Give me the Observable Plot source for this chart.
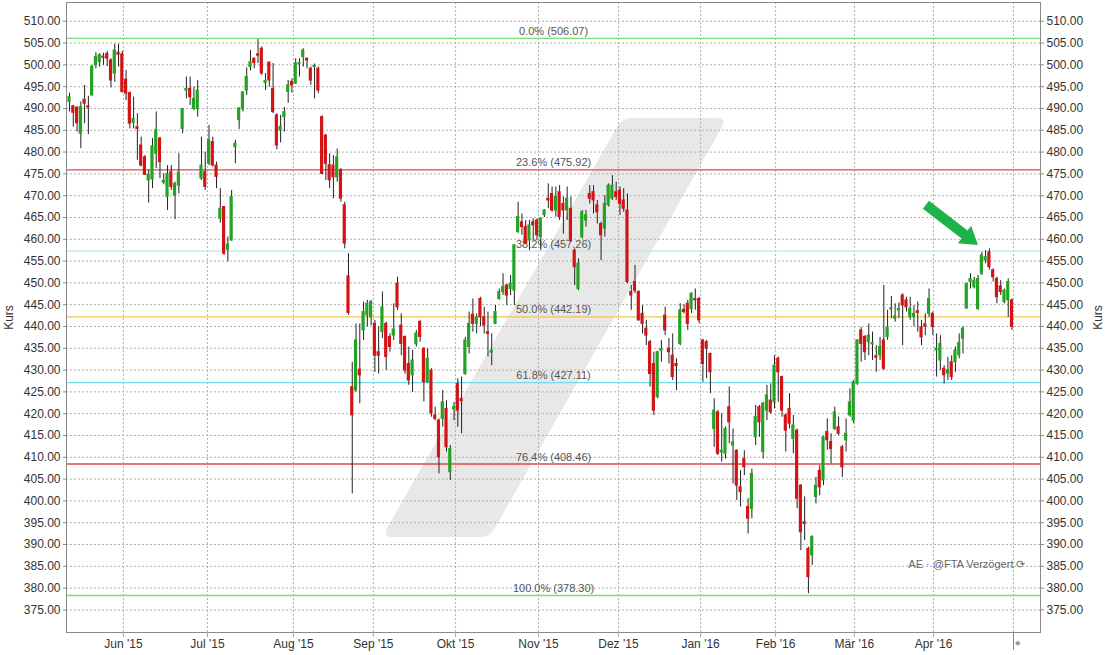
<!DOCTYPE html>
<html><head><meta charset="utf-8">
<script src="https://cdn.jsdelivr.net/npm/d3@7"></script>
<script src="https://cdn.jsdelivr.net/npm/@observablehq/plot@0.6"></script>
<style>
html,body{margin:0;padding:0;background:#fff;}
#chart{width:1108px;height:655px;overflow:hidden;}
</style></head><body><div id="chart"></div>
<script>
// ---- data (trading-day index i = 0..250) ----
const opens = [
491.5,490.5,490.2,484.2,492,490.5,493,499.9,500.6,501.9,
502.5,501,498,502.8,502.4,496.6,493.5,486.7,485.7,481.5,
478.8,473.5,473.7,479.6,483.1,473.0,469.7,475.4,470,472.3,
485.3,494.1,494.5,489.9,489.9,473.9,475.4,477.3,482.3,476.9,
464.7,467.4,457.6,459.7,481.1,487.3,489.8,494.1,499.5,501.4,
502.4,503.7,495.8,500.5,494.5,488.4,485,488,493.8,496.1,
495.7,500.1,501.8,501.4,499.1,499.5,499.1,488,483.8,477,
476.9,474.2,475.9,467.8,451.5,426.1,425.3,430.1,439.1,442.5,
442.1,440.6,434.1,438.7,440.6,437.6,437.9,449.8,440.2,437.6,
431.4,428.8,435.9,441,434.9,427.2,429.9,419.6,418.4,418.8,
421.1,406.6,421,426.8,423.4,429.1,435.3,442.7,440.6,446.3,
442.1,438.7,434,440.6,446.3,447.9,449.4,448.6,448.2,461.6,
463.9,462.8,459.7,463.9,464.3,460.5,465.5,469.3,470.4,466.6,
470.8,468.1,466.6,467,457.4,448.6,460.5,464.3,470.4,470.8,
467.8,463.5,462.4,467.8,469.3,470.8,471.2,468.9,466.6,447.9,
450.2,447.9,442.9,439.5,436.4,431.4,423.8,434.4,442.5,434.9,
433.3,431.4,436,443.8,445.2,444,446.3,446.3,436.8,436.4,
433.7,416.5,420.3,411.1,410.8,421.5,412.7,411.5,403.1,409.6,
398.6,398.2,414.6,421.5,411.2,420.7,423,422.6,432.6,428.4,
419.6,421.1,414.2,416.1,403.5,395.1,389,387.5,400.9,406.9,
404.7,415.8,413.5,416.5,416.9,412.3,413.9,419.6,418.4,426.9,
439.1,437.6,436.4,435.9,433.2,433.4,436.8,437.6,443.9,441.8,
443.7,447.1,446,442.2,442.2,443.5,439.8,440.5,442.9,442.9,
434.5,432.2,430.3,429.2,431.8,431.8,433.4,437.2,444.1,450.2,
449,444,452.1,455.1,457,452.9,450.9,449.2,445.6,446,
446];
const highs = [
493.5,490.7,490.3,491.5,495.3,492.8,499.9,502.8,502.6,502.7,
503.1,501.4,504.7,504.7,503.1,498.7,493.8,492.6,488.8,483.4,
479.2,475.8,483.1,489.2,483.4,475,476.9,476.9,473.1,479.6,
490,497.2,497.2,494.9,496.4,483.4,480,486.1,483.4,477.7,
471.6,467.5,460.5,471.2,482.7,490.2,493.8,499.3,503.3,501.6,
505.8,504.1,498,500.7,500.3,488.8,488.4,490.2,496.4,496.8,
501.4,501.4,503.7,501.6,499.5,500.2,499.5,488.3,484,479.6,
479.2,480.7,476.2,468.5,456.7,431.8,440.6,440.6,445.6,446,
446,441.4,439.9,447.9,441,438.3,445.2,451.3,442.9,437.8,
435.3,434.5,439.1,441.4,435.1,434.9,430.3,421.5,418.8,425.3,
423,412.7,422.6,428,428.4,437.5,443.3,446.3,442.9,446.7,
444.4,443.3,438.3,444.8,448.6,452.1,449.6,451.7,458.8,468.5,
465.8,464.3,464.3,464.7,464.7,464.9,466.8,472.7,472,472,
472.3,469.7,472,469.7,457.8,455.5,466.6,466.6,472.3,472.3,
468.9,463.9,470,472.7,474.6,473.1,472,471.6,470.4,449.4,
454,448.2,444.8,441.4,436.8,434.1,434.3,436.8,444.4,437.2,
438.3,432.6,445.2,445,446,447.7,448.6,446.7,437,436.8,
433.9,423.4,420.7,420,416.9,426.1,416.5,411.7,406.9,411.5,
400.5,407.3,421.9,421.9,422.6,426.5,426.8,433.3,433,428.6,
420,424.6,419.6,416.5,403.7,400.9,389.4,392,405.4,408.1,
414.8,418.8,415.4,421.5,419.2,412.7,418.8,425.7,427.6,437,
439.8,437.9,440.6,438.7,435.6,437.5,449.4,443.7,446.9,445.2,
445.4,447.5,446.7,446.7,444.8,445.6,441.4,442.9,448.6,443.3,
438.3,437.9,431,432.9,433.3,435.3,438.3,439.9,449.9,452.1,
451.3,451.7,457,457.4,457.8,453.2,451.3,450.5,448.6,450.9,
446.3];
const lows = [
489.2,485.7,484.6,480.8,486.5,484,492.8,499.1,499.5,499.9,
499.6,494.7,496,499.5,493.5,491.8,485.3,485.3,478.1,476.6,
474.6,468.3,471.6,476.2,473.9,472.5,466.6,471.2,464.5,470.4,
484.2,492.2,490.7,489.5,488,473.5,471.2,476.9,476.6,471.6,
463.7,456.3,454.8,459.6,477.3,485.2,489.2,493,498.6,499.1,
500.3,497.6,494.1,494.9,488.8,480.5,482.1,484.6,491.2,493.5,
495.5,497.2,499.5,499.1,495.3,492.2,493.4,474.8,473.5,471.6,
469.3,473.1,468.5,457.8,442.6,401.6,424.9,422.3,436.8,439.9,
440.2,429.5,429.1,437.2,429.9,434.1,436.8,443.7,433.3,429.1,
426.5,424.9,435.3,436.4,422.7,426.9,419.2,418.4,406.2,416.9,
411.2,404.7,418.4,416.9,415.4,428.8,433.7,438.7,438.3,439.9,
438.3,433,431,440.4,446,447.1,444.8,447.1,444.8,461.4,
460.9,458.8,457.4,459.7,459.7,457.4,465,467,466.2,465.1,
464.3,461.2,464.3,459.3,449.4,448.2,460.1,462.8,468.1,465.8,
463.5,455.1,460.5,467.4,468.9,468.9,465.5,466.2,449.8,443.7,
447.5,441.2,438.3,435.6,426.1,419.6,423.4,431.8,437.9,431.4,
427.6,425.3,435.6,442.9,439.1,443,443.7,440.6,427.2,428,
424.6,412.3,410.4,408.9,409.6,413.1,403.9,400.1,398.6,405.8,
392.4,395.9,412.7,414.6,409.6,418.4,419.9,421.1,422.6,419.2,
411.2,416.5,410.8,398.2,388.6,390.9,378.7,385.2,399.3,401.2,
403.5,411.6,408.5,416.1,415,405.4,411.2,419.2,417.7,426.5,
431.8,432.2,433.3,432.2,429.5,432.2,429.9,436.8,441.8,441,
441.8,435.6,443.3,441.4,439.9,438.7,435.6,437.9,442.1,437.9,
428.4,429.9,426.8,427.6,427.6,429.5,432.6,433.7,444,448.6,
448.6,443.7,451.7,454.4,452.9,450.2,445.2,447.1,445.2,442.1,
439.1];
const closes = [
492.6,489,486.6,490.3,491.1,490.2,499.5,501.8,502.2,501.6,
501.4,496.4,503.3,502.3,493.8,493.4,486.5,487.6,485.3,476.9,
474.8,474.8,481.3,485,477.7,473.4,475,472,472.7,475.3,
489.9,494.5,492.6,492.2,494.1,476.9,472,482.7,476.9,474.3,
467,456.7,458.8,469.7,481.9,490,493.7,497.2,500.6,500.4,
502.1,498,496.3,496.4,489.2,481.5,485.8,489.2,495.3,495.3,
500.3,500.4,503.3,501,496.4,499.8,494.1,475,477.3,473.5,
474.2,478.8,469.3,459,443.1,419.6,436.8,428.8,443.3,445.2,
445.6,433.3,433.3,444.4,433,435.3,439.3,444.4,436,429.9,
427.6,432.2,438.4,437.6,427.2,432.6,420,418.8,410,422.6,
412.3,411.9,421.5,420.7,422.9,436.8,440.6,440.6,442.1,442.1,
440.2,438.3,434.4,443.3,447.9,449,447.1,449.8,458.6,465.1,
462.8,459,463.2,463.2,460.9,464.7,466.6,468.9,466.6,469.7,
465.1,466.6,469.3,459.7,453.6,454.4,466.2,465.5,469.3,468.9,
466.2,460.9,468.1,472.3,472.3,469.7,468.1,467,450.2,447.1,
448.2,441.4,440.6,437.9,429.1,420.7,434.1,434.8,439.1,434.1,
428.4,430.9,443.7,443.3,440.6,447.5,446,441.4,431.4,434.9,
429.5,420.7,410.8,411.5,416.5,418,413.4,403.5,402,407.7,
395.9,406.2,419.2,418,422.3,424.2,420.3,431,429.5,420.7,
416.1,417.7,417.3,400.5,392.8,394.7,382.5,391.7,403.5,403.1,
414.6,413.9,411.9,420.3,415.4,407.7,415.4,422.6,427.2,436.8,
436,434.1,437.9,436.2,432.8,435.3,430.3,439.8,444.2,442.3,
444,444.8,444.4,444.1,442.9,443.1,437.5,440,446.3,439.9,
434.9,436,428.8,430,428.4,434.5,436.2,439.5,449.8,450.9,
450.5,450.9,456.3,455.9,453.6,451.3,446.7,447.9,448.2,450.2,
439.9];

// month starts (trading-day index) and their labels
const monthTicks = [14.3, 36.6, 59.4, 80.6, 102.4, 124.4, 145.6, 167.4, 187.3, 208.2, 229.2];
const monthLabels = ["Jun '15","Jul '15","Aug '15","Sep '15","Okt '15","Nov '15","Dez '15","Jan '16","Feb '16","Mär '16","Apr '16"];
const endTick = 250.4;

// y ticks
const yTicks = d3.range(375, 510.01, 5);

// Fibonacci retracement levels
const fibPercents = ["0.0%","23.6%","38.2%","50.0%","61.8%","76.4%","100.0%"];
const fibValues = [506.07, 475.92, 457.26, 442.19, 427.11, 408.46, 378.30];
const fibColors = ["#78e078","#e04848","#b4ecf6","#f7c24c","#72dcec","#e04848","#78e078"];
const fibLabelAt = 128.4;

// annotation arrow (index, price)
const arrowFrom = [227.3, 467.8];
const arrowTo = [241.1, 458.6];

const sourceText = "AE · @FTA Verzögert ⟳";

// ---- build ----
const candles = opens.map((o, i) => ({i, open: o, high: highs[i], low: lows[i], close: closes[i], up: closes[i] >= o}));
const fib = fibValues.map((v, k) => ({value: v, label: `${fibPercents[k]} (${v.toFixed(2)})`, color: fibColors[k]}));
const labelMap = new Map(monthTicks.map((t, k) => [t, monthLabels[k]]));

const UP = "#22a322", DOWN = "#d41414";

const plot = Plot.plot({
  width: 1108, height: 655,
  marginLeft: 66, marginRight: 68, marginTop: 2, marginBottom: 23,
  style: {fontFamily: "'Liberation Sans', Arial, sans-serif", fontSize: "12px", color: "#333", background: "#fff"},
  x: {domain: [-0.8, 257.56], axis: null},
  y: {domain: [369.82, 514.3], axis: null},
  marks: [
    Plot.ruleY(yTicks, {stroke: "#b0b0b0", strokeDasharray: "2,2", strokeWidth: 1}),
    Plot.ruleX([...monthTicks, endTick], {stroke: "#b0b0b0", strokeDasharray: "2,2", strokeWidth: 1}),
    Plot.ruleY(fib, {y: "value", stroke: "color", strokeWidth: 1.3}),
    Plot.text(fib, {x: () => fibLabelAt, y: "value", text: "label", dy: -7, fill: "#555", fontSize: 11}),
    Plot.ruleX(candles, {x: "i", y1: "low", y2: "high", stroke: "#222", strokeWidth: 1}),
    Plot.rect(candles, {x1: d => d.i - 0.42, x2: d => d.i + 0.42, y1: "open", y2: "close",
      fill: d => d.up ? UP : DOWN, insetTop: -0.5, insetBottom: -0.5}),
    Plot.frame({stroke: "#8a8a8a"}),
    Plot.axisY({anchor: "left", ticks: yTicks, tickFormat: d3.format(".2f"), tickSize: 3, tickPadding: 3, label: null, fontSize: 12, stroke: "#8a8a8a", fill: "#333"}),
    Plot.axisY({anchor: "right", ticks: yTicks, tickFormat: d3.format(".2f"), tickSize: 3, tickPadding: 3, label: null, fontSize: 12, stroke: "#8a8a8a", fill: "#333"}),
    Plot.axisX({ticks: monthTicks, tickFormat: d => labelMap.get(d), tickSize: 5, tickPadding: 2, label: null, fontSize: 12, stroke: "#aaa", fill: "#333"}),
    Plot.axisX({ticks: [endTick], tickFormat: () => "", tickSize: 18, label: null, stroke: "#888"}),
    Plot.text([endTick], {x: d => d, frameAnchor: "bottom", dy: 12, dx: 4, text: () => "◆", fontSize: 7, fill: "#999"}),
    Plot.text(["Kurs"], {frameAnchor: "left", dx: -57, rotate: -90, textAnchor: "middle", fontSize: 12, fill: "#333"}),
    Plot.text(["Kurs"], {frameAnchor: "right", dx: 58, rotate: -90, textAnchor: "middle", fontSize: 12, fill: "#333"}),
    Plot.text([sourceText], {frameAnchor: "bottom-right", dx: -15, dy: -65, textAnchor: "end", fontSize: 11, fill: "#666"})
  ]
});

document.getElementById("chart").appendChild(plot);

// decorative watermark (pixel space) inserted behind marks
const ns = "http://www.w3.org/2000/svg";
const wm = document.createElementNS(ns, "path");
wm.setAttribute("d", "M392,537 L481,537 Q490,537 495,528 L722,127 Q727,118 716,118 L631,118 Q622,118 617,127 L387,528 Q383,537 392,537 Z");
wm.setAttribute("fill", "#e8e8e8");
const firstMark = plot.querySelector("g");
plot.insertBefore(wm, firstMark);

// annotation arrow via scales
const sx = plot.scale("x"), sy = plot.scale("y");
const x0 = sx.apply(arrowFrom[0]), y0 = sy.apply(arrowFrom[1]);
const x1 = sx.apply(arrowTo[0]), y1 = sy.apply(arrowTo[1]);
const L = Math.hypot(x1 - x0, y1 - y0), ux = (x1 - x0) / L, uy = (y1 - y0) / L, nx = -uy, ny = ux;
const hw = 5, hh = 11, hl = 17;
const bx = x1 - ux * hl, by = y1 - uy * hl;
const pts = [[x0 + nx*hw, y0 + ny*hw],[bx + nx*hw, by + ny*hw],[bx + nx*hh, by + ny*hh],[x1, y1],[bx - nx*hh, by - ny*hh],[bx - nx*hw, by - ny*hw],[x0 - nx*hw, y0 - ny*hw]];
const ar = document.createElementNS(ns, "polygon");
ar.setAttribute("points", pts.map(p => p.join(",")).join(" "));
ar.setAttribute("fill", "#1fb24a");
plot.appendChild(ar);
</script>
</body></html>
